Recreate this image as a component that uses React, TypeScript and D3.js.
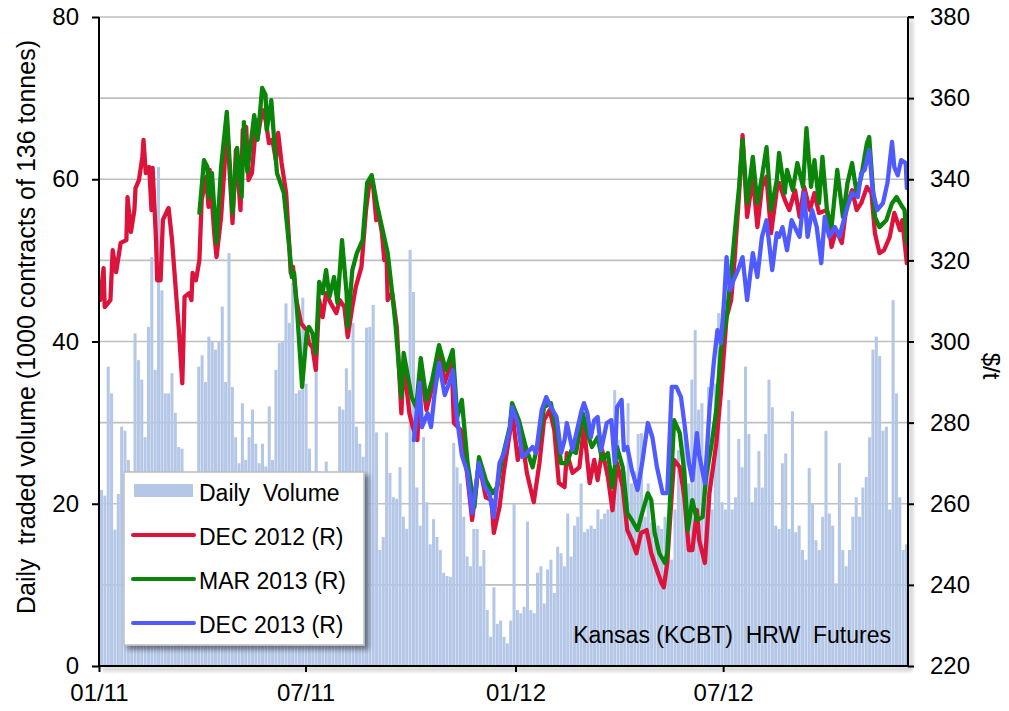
import React, { useRef, useEffect } from "react";
import * as d3 from "d3";

// contract prices, [days after 2011-01-01, $/t]
const dec2012: [number, number][] = [
  [1, 310.2], [4, 318.1], [5, 308.5], [10, 310.2], [12, 322.5], [15, 317.1], [19, 324.3], [24, 325.0],
  [25, 335.6], [28, 327.0], [31, 332.4], [32, 337.8], [35, 339.8], [38, 345.5], [39, 349.7], [41, 341.5],
  [44, 343.0], [46, 332.4], [47, 342.8], [50, 325.0], [51, 315.1], [54, 315.1], [56, 330.0], [60, 332.4],
  [61, 332.9], [64, 325.0], [66, 317.6], [68, 310.2], [70, 302.8], [73, 289.7], [75, 311.0], [79, 311.9],
  [81, 310.2], [82, 316.9], [85, 315.1], [88, 320.1], [90, 334.9], [94, 340.6], [96, 333.2], [97, 342.3],
  [101, 326.7], [103, 320.8], [107, 330.7], [110, 343.0], [112, 354.6], [117, 329.2], [120, 347.2], [124, 332.4],
  [126, 352.1], [129, 352.9], [131, 339.8], [134, 341.5], [138, 354.6], [139, 350.2], [143, 357.1], [146, 354.6],
  [149, 348.9], [152, 349.7], [155, 344.7], [157, 351.4], [160, 344.0], [164, 336.6], [167, 322.5], [168, 316.9],
  [170, 318.4], [173, 310.2], [177, 304.5], [182, 302.8], [184, 299.6], [187, 298.6], [190, 293.0], [193, 310.2],
  [196, 306.0], [199, 311.9], [203, 309.5], [208, 307.0], [211, 310.2], [215, 308.5], [218, 301.1], [222, 308.5],
  [225, 313.4], [230, 318.4], [234, 332.4], [237, 339.1], [240, 339.1], [243, 329.9], [245, 331.7], [248, 326.7],
  [250, 320.1], [252, 320.8], [253, 310.2], [257, 311.9], [261, 303.5], [265, 282.3], [267, 295.0], [272, 282.3],
  [275, 278.9], [279, 275.7], [282, 292.9], [287, 283.1], [292, 288.8], [298, 297.2], [303, 289.8], [309, 295.4],
  [311, 279.9], [317, 278.2], [322, 269.0], [327, 256.0], [333, 270.0], [339, 261.6], [344, 260.9], [346, 252.8],
  [351, 259.2], [355, 268.3], [360, 277.4], [362, 283.1], [367, 270.8], [371, 275.7], [375, 267.6], [381, 260.4],
  [386, 270.0], [390, 280.6], [395, 283.1], [399, 278.2], [403, 265.1], [408, 264.1], [410, 272.5], [415, 267.6],
  [421, 269.0], [425, 278.9], [430, 265.1], [434, 270.8], [437, 265.8], [441, 273.2], [446, 266.6], [450, 258.4],
  [454, 270.0], [459, 264.1], [463, 253.5], [467, 251.0], [471, 247.8], [475, 252.8], [480, 253.5], [484, 247.8],
  [488, 244.4], [493, 240.4], [495, 239.4], [498, 245.4], [502, 262.6], [504, 270.8], [509, 269.0], [513, 261.6],
  [517, 248.6], [520, 248.6], [524, 258.4], [526, 251.0], [531, 245.4], [535, 262.6], [541, 274.9], [545, 287.3],
  [550, 306.0], [554, 310.2], [557, 320.1], [561, 336.6], [564, 350.9], [568, 330.7], [573, 340.6], [577, 328.2],
  [581, 338.1], [585, 340.6], [589, 326.7], [594, 337.3], [596, 339.1], [601, 334.9], [605, 332.4], [610, 337.3],
  [614, 330.7], [618, 338.1], [623, 332.4], [627, 336.6], [631, 331.7], [638, 332.4], [642, 323.3], [646, 327.5],
  [651, 324.3], [655, 333.2], [660, 337.3], [664, 332.4], [668, 334.1], [673, 338.1], [677, 336.6], [680, 326.7],
  [684, 321.8], [688, 322.5], [693, 325.8], [697, 331.7], [702, 327.5], [704, 329.9], [708, 319.3],
];

const mar2013: [number, number][] = [
  [88, 331.7], [92, 344.7], [95, 343.0], [96, 335.6], [99, 341.5], [103, 324.3], [107, 343.0], [112, 356.6],
  [117, 331.7], [121, 347.7], [125, 335.6], [127, 354.1], [130, 341.8], [136, 355.8], [139, 349.7], [143, 362.5],
  [146, 360.8], [147, 352.1], [151, 359.5], [153, 351.6], [156, 341.5], [162, 336.6], [167, 322.5], [169, 315.9],
  [171, 316.9], [174, 306.0], [178, 288.8], [182, 302.1], [184, 303.6], [187, 302.1], [190, 297.1], [193, 314.7],
  [196, 311.9], [199, 317.6], [202, 311.0], [206, 315.9], [209, 309.5], [213, 325.0], [217, 311.9], [218, 303.6],
  [222, 317.6], [226, 321.8], [231, 325.0], [235, 339.1], [239, 341.0], [244, 333.2], [248, 328.2], [253, 321.8],
  [257, 311.9], [260, 303.6], [265, 286.3], [267, 297.2], [274, 286.3], [278, 283.8], [282, 295.9], [287, 285.6],
  [292, 290.5], [298, 299.1], [304, 292.9], [310, 297.9], [314, 281.4], [318, 285.6], [323, 270.0], [329, 259.2],
  [333, 271.5], [339, 265.8], [345, 262.6], [349, 264.1], [353, 270.8], [360, 278.9], [362, 284.8], [368, 280.6],
  [374, 274.0], [380, 269.0], [386, 276.4], [390, 283.8], [396, 284.8], [401, 278.2], [405, 270.0], [410, 270.0],
  [414, 273.2], [418, 272.5], [424, 282.3], [428, 277.4], [432, 274.0], [437, 276.4], [441, 270.8], [446, 272.5],
  [450, 264.1], [454, 274.0], [459, 269.0], [463, 257.7], [467, 256.0], [472, 253.5], [476, 257.7], [481, 262.6],
  [484, 260.9], [487, 252.8], [491, 247.8], [496, 245.4], [498, 247.8], [502, 269.0], [504, 280.6], [509, 277.4],
  [513, 267.6], [516, 253.5], [520, 260.9], [524, 256.0], [529, 256.7], [532, 266.6], [537, 274.9], [541, 283.1],
  [545, 297.9], [550, 306.0], [554, 316.9], [559, 332.4], [561, 338.1], [564, 349.7], [568, 334.1], [573, 345.5],
  [577, 334.1], [581, 340.6], [585, 347.9], [589, 332.4], [594, 339.8], [596, 346.5], [601, 336.6], [603, 342.3],
  [608, 337.3], [612, 344.0], [617, 338.1], [620, 352.6], [624, 338.1], [627, 344.7], [631, 334.1], [634, 345.5],
  [638, 332.4], [642, 328.2], [647, 342.3], [652, 330.7], [656, 339.1], [660, 344.0], [664, 336.6], [668, 340.6],
  [673, 348.9], [675, 350.4], [680, 330.7], [684, 328.2], [690, 329.9], [695, 334.1], [699, 335.6], [704, 333.2],
  [706, 332.4], [708, 324.3],
];

const dec2013: [number, number][] = [
  [276, 275.7], [281, 289.8], [283, 278.9], [288, 282.3], [291, 278.9], [294, 286.8], [298, 294.7], [303, 286.8],
  [307, 289.8], [310, 292.9], [314, 280.6], [318, 272.0], [323, 267.6], [327, 257.7], [333, 270.0], [338, 264.1],
  [342, 262.6], [346, 256.7], [351, 270.0], [355, 272.5], [360, 278.2], [362, 283.8], [367, 279.9], [371, 271.5],
  [375, 272.5], [380, 274.0], [383, 272.5], [388, 283.1], [392, 286.3], [396, 283.8], [401, 281.4], [405, 272.5],
  [408, 275.7], [410, 279.9], [415, 273.2], [419, 278.2], [423, 283.1], [425, 284.8], [428, 282.3], [431, 276.4],
  [434, 280.6], [437, 281.4], [440, 273.2], [445, 279.9], [449, 280.6], [452, 270.0], [454, 283.8], [458, 285.6],
  [460, 273.2], [463, 274.0], [467, 268.3], [472, 263.4], [476, 270.0], [481, 279.9], [485, 276.4], [489, 269.0],
  [494, 262.6], [498, 262.6], [502, 288.8], [506, 288.8], [510, 286.3], [513, 279.9], [517, 270.0], [520, 265.8],
  [524, 277.4], [526, 272.0], [531, 265.1], [535, 283.1], [539, 295.4], [542, 302.8], [545, 299.6], [548, 310.9],
  [550, 320.8], [553, 312.7], [555, 314.4], [560, 317.6], [564, 320.8], [568, 310.2], [573, 321.8], [577, 315.9],
  [581, 325.8], [585, 329.9], [588, 322.5], [590, 317.6], [594, 326.7], [596, 325.8], [599, 328.2], [603, 322.5],
  [607, 329.9], [611, 327.5], [614, 325.8], [618, 336.6], [621, 325.8], [625, 332.4], [629, 328.2], [633, 319.3],
  [636, 330.7], [640, 325.8], [645, 328.2], [649, 325.8], [652, 329.2], [656, 333.2], [660, 336.6], [665, 335.6],
  [668, 341.5], [671, 342.3], [675, 347.2], [678, 337.3], [682, 332.4], [687, 334.1], [691, 339.1], [695, 349.2],
  [697, 343.0], [700, 341.0], [703, 344.7], [707, 344.0], [708, 337.8],
];

// daily traded volume, 1000 contracts, one value per ~3 days from 01/11
const volume: number[] = [
  21.7, 21, 36.9, 33.6, 16.8, 21.2, 29.5, 29, 25.4, 24, 41, 37.7, 35.3, 28.2, 41.8, 50.4, 36.5, 61.5, 46.3, 33.6,
  33.6, 36.1, 31.2, 27, 26.8, 14.3, 15, 18, 12, 36.9, 38.3, 35, 40.6, 40, 39, 40, 44.3, 35, 50.9, 34.4,
  28.2, 25, 32.4, 25.4, 28.2, 31.6, 27.4, 25, 27.4, 24.6, 32, 25.4, 36.5, 39.8, 40, 44.7, 42.3, 47.2, 33.6, 34,
  45.4, 34.8, 26.8, 21, 39, 24, 22, 25.2, 21, 18, 20, 32, 31.6, 36.7, 34, 42.3, 29.5, 27.4, 25.8, 41.7,
  41.8, 44.5, 28.8, 14.3, 15.9, 28.8, 23.8, 20.8, 20.6, 24.5, 18.4, 16.9, 51.3, 46.1, 22, 17.3, 28.2, 20.2, 15, 18.1,
  15.9, 14.3, 11.5, 11.1, 11, 27.5, 24.5, 22.5, 18.4, 13.5, 12.3, 16.9, 16.9, 12.3, 14.3, 6.9, 3.6, 9.7, 5.2, 5.6,
  3.6, 2.8, 5.6, 20, 6.9, 6.5, 7.3, 17.8, 6.9, 6.5, 11.5, 12.3, 7.7, 11.9, 13.1, 9, 14.7, 13.9, 12.3, 18.8,
  13.5, 17.3, 18.4, 22.5, 16.5, 16.9, 17.3, 16.9, 19.3, 18.1, 18.8, 19.3, 20.6, 34, 27.9, 23.3, 24, 32.4, 22.5, 24, 28.6,
  28.7, 18.4, 22.5, 17.7, 15.5, 17.3, 16.9, 18.4, 15.5, 13.1, 19.3, 26.6, 22, 29.5, 22.5, 35.3, 41.4, 31.6, 32.4, 24,
  34.4, 19.3, 34.8, 43.5, 20.2, 19.3, 32.8, 19.3, 20.8, 28, 24.5, 36.9, 28.6, 20.2, 22, 26.5, 22, 28.6, 35.3, 31.9,
  17.3, 16.9, 25, 26.2, 16.9, 31.4, 16.5, 17.3, 14.3, 13.1, 24.4, 20, 15.5, 14.3, 18.4, 29, 18.8, 17.3, 10.2, 25,
  14.3, 12.3, 14.3, 18.4, 20.8, 18.4, 22, 23.3, 28.2, 39, 40.6, 38.2, 29, 29.5, 19.3, 45.1, 33.6, 20.8, 14.3, 15,
];

const xTicks = ["2011-01-01", "2011-07-01", "2012-01-01", "2012-07-01"];
const leftTicks = [0, 20, 40, 60, 80];
const rightTicks = [220, 240, 260, 280, 300, 320, 340, 360, 380];

const series = [
  { name: "DEC 2012 (R)", data: dec2012, color: "#dc143c" },
  { name: "MAR 2013 (R)", data: mar2013, color: "#0a850a" },
  { name: "DEC 2013 (R)", data: dec2013, color: "#4f5bff" },
];

const FONT = "Liberation Sans, Arial, sans-serif";

function Chart({ width, height }: { width: number; height: number }) {
  const svgRef = useRef<SVGSVGElement>(null);

  useEffect(() => {
    const svg = d3.select(svgRef.current);
    svg.selectAll("*").remove();
    svg.attr("width", width).attr("height", height);

    const margin = { top: 17, right: 101, bottom: 45, left: 99 };
    const x0 = margin.left, x1 = width - margin.right;
    const y0 = margin.top, y1 = height - margin.bottom;

    const start = new Date(2011, 0, 1);
    const end = new Date(2012, 11, 10);
    const day = (d: number) => d3.timeDay.offset(start, d);

    const x = d3.scaleTime().domain([start, end]).range([x0, x1]);
    const yL = d3.scaleLinear().domain([0, 80]).range([y1, y0]);
    const yR = d3.scaleLinear().domain([220, 380]).range([y1, y0]);
    const xBand = d3.scaleBand<number>()
      .domain(volume.map((_, i) => i))
      .range([x0 + 1, x1])
      .paddingInner(0.1);

    const defs = svg.append("defs");
    const sh = defs.append("filter").attr("id", "shadow").attr("x", "-20%").attr("y", "-20%").attr("width", "140%").attr("height", "140%");
    sh.append("feDropShadow").attr("dx", 4).attr("dy", 4).attr("stdDeviation", 2.5)
      .attr("flood-color", "#000").attr("flood-opacity", 0.45);
    const ash = defs.append("filter").attr("id", "axshadow").attr("x", "-50%").attr("y", "-5%").attr("width", "400%").attr("height", "110%");
    ash.append("feDropShadow").attr("dx", 3).attr("dy", 3).attr("stdDeviation", 2)
      .attr("flood-color", "#000").attr("flood-opacity", 0.4);

    // grid
    svg.append("g")
      .selectAll("line")
      .data(rightTicks.filter(t => t > 220))
      .enter()
      .append("line")
      .attr("x1", x0).attr("x2", x1)
      .attr("y1", d => yR(d)).attr("y2", d => yR(d))
      .attr("stroke", "#bfbfbf")
      .attr("stroke-width", 1.6);

    // volume bars
    svg.append("g")
      .selectAll("rect")
      .data(volume)
      .enter()
      .append("rect")
      .attr("x", (_, i) => xBand(i)!)
      .attr("width", xBand.bandwidth())
      .attr("y", d => yL(d))
      .attr("height", d => y1 - yL(d))
      .attr("fill", "#b4c7e7");

    const line = d3.line<[number, number]>()
      .x(d => x(day(d[0])))
      .y(d => yR(d[1]));

    series.forEach(s => {
      svg.append("path")
        .datum(s.data)
        .attr("d", line)
        .attr("fill", "none")
        .attr("stroke", s.color)
        .attr("stroke-width", 4.3)
        .attr("stroke-linejoin", "round")
        .attr("stroke-linecap", "round");
    });

    // axes
    const styleAxis = (g: any) => {
      g.select(".domain").remove();
      g.selectAll(".tick line").attr("stroke", "#000").attr("stroke-width", 2);
      g.selectAll(".tick text").attr("font-size", 24).attr("font-family", FONT).attr("fill", "#000");
    };

    svg.append("g")
      .attr("transform", `translate(${x0},0)`)
      .call(d3.axisLeft(yL).tickValues(leftTicks).tickSize(7).tickPadding(13))
      .call(styleAxis);

    svg.append("g")
      .attr("transform", `translate(${x1},0)`)
      .call(d3.axisRight(yR).tickValues(rightTicks).tickSize(6).tickPadding(16))
      .call(styleAxis);

    svg.append("g")
      .attr("transform", `translate(0,${y1})`)
      .call(d3.axisBottom(x).tickValues(xTicks.map(t => d3.timeParse("%Y-%m-%d")(t)!))
        .tickFormat(d => d3.timeFormat("%m/%y")(d as Date)).tickSize(6).tickPadding(12))
      .call(styleAxis);

    svg.append("line")
      .attr("x1", x0).attr("x2", x0).attr("y1", y0).attr("y2", y1 + 1)
      .attr("stroke", "#000").attr("stroke-width", 2);
    svg.append("path")
      .attr("d", `M${x0},${y1}H${x1}V${y0}`)
      .attr("fill", "none")
      .attr("stroke", "#000")
      .attr("stroke-width", 2)
      .attr("filter", "url(#axshadow)");
    svg.append("line")
      .attr("x1", x1).attr("x2", x1 + 6).attr("y1", y0).attr("y2", y0)
      .attr("stroke", "#000").attr("stroke-width", 2);

    // axis titles
    svg.append("text")
      .attr("transform", `translate(35,327) rotate(-90)`)
      .attr("text-anchor", "middle")
      .attr("font-family", FONT)
      .attr("font-size", 25)
      .attr("xml:space", "preserve")
      .text("Daily  traded volume (1000 contracts of 136 tonnes)");

    svg.append("text")
      .attr("transform", `translate(983,366) rotate(90)`)
      .attr("text-anchor", "middle")
      .attr("font-family", FONT)
      .attr("font-size", 24)
      .text("$/t");

    svg.append("text")
      .attr("x", 891)
      .attr("y", 643)
      .attr("text-anchor", "end")
      .attr("font-family", FONT)
      .attr("font-size", 23)
      .attr("xml:space", "preserve")
      .text("Kansas (KCBT)  HRW  Futures");

    // legend
    const lg = svg.append("g").attr("transform", "translate(124,472)");
    lg.append("rect")
      .attr("width", 240).attr("height", 173)
      .attr("fill", "#fff")
      .attr("stroke", "#bfbfbf")
      .attr("stroke-width", 1.5)
      .attr("filter", "url(#shadow)");
    const items = [{ name: "Daily  Volume", color: "#b4c7e7", bar: true }]
      .concat(series.map(s => ({ name: s.name, color: s.color, bar: false })));
    items.forEach((it, i) => {
      const cy = 19 + i * 44;
      if (it.bar) {
        lg.append("rect").attr("x", 10).attr("y", cy - 7).attr("width", 59).attr("height", 13).attr("fill", it.color);
      } else {
        lg.append("line").attr("x1", 9).attr("x2", 70).attr("y1", cy + 0).attr("y2", cy + 0)
          .attr("stroke", it.color).attr("stroke-width", 4).attr("stroke-linecap", "round");
      }
      lg.append("text")
        .attr("x", 75)
        .attr("y", cy + 10)
        .attr("font-family", FONT)
        .attr("font-size", 23)
        .attr("xml:space", "preserve")
        .text(it.name);
    });
  }, [width, height]);

  return <svg ref={svgRef} style={{ position: "absolute", left: 0, top: 0, display: "block" }}></svg>;
}

export default function App() {
  return <Chart width={1009} height={711} />;
}
